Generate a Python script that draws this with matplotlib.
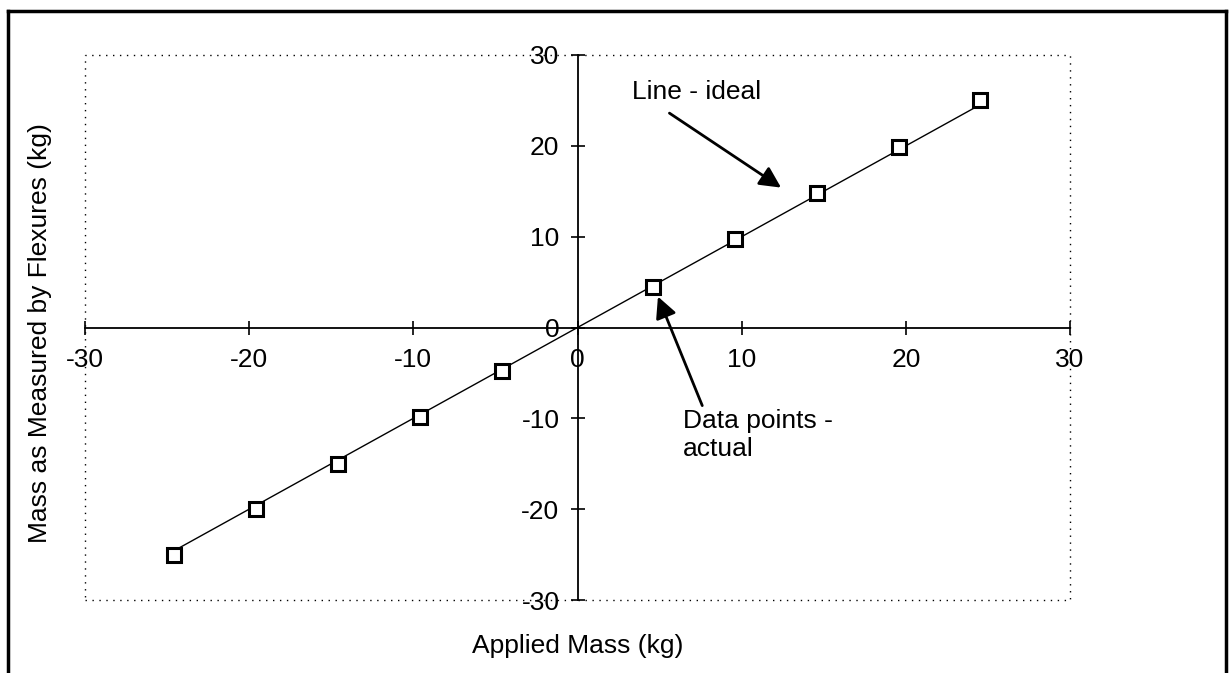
#!/usr/bin/env python3
import matplotlib
matplotlib.use("Agg")
import matplotlib.pyplot as plt
from matplotlib.patches import Rectangle
from matplotlib.lines import Line2D

plt.rcParams["font.family"] = ["Liberation Sans", "DejaVu Sans"]
plt.rcParams["axes.unicode_minus"] = False

# applied vs measured mass (kg)
applied = [-24.6, -19.6, -14.6, -9.6, -4.6, 4.6, 9.6, 14.6, 19.6, 24.5]
measured = [-25.0, -20.0, -15.0, -9.8, -4.8, 4.5, 9.7, 14.8, 19.9, 25.0]
ideal_x = [-24.6, 24.5]
ideal_y = [-24.6, 24.5]
ticks = [-30, -20, -10, 0, 10, 20, 30]

FS = 19

fig = plt.figure(figsize=(12.32, 6.73), dpi=100)
ax = fig.add_axes([85 / 1232, 1 - 600 / 673, (1070 - 85) / 1232, (600 - 55) / 673])

ax.plot(ideal_x, ideal_y, color="black", lw=1)
ax.plot(applied, measured, ls="none", marker="s", ms=10, mfc="white",
        mec="black", mew=2.2, clip_on=False)

ax.set_xlim(-30, 30)
ax.set_ylim(-30, 30)
ax.set_xticks(ticks)
ax.set_yticks(ticks)

for s in ["top", "right"]:
    ax.spines[s].set_visible(False)
ax.spines["left"].set_position(("data", 0))
ax.spines["bottom"].set_position(("data", 0))
ax.spines["left"].set_linewidth(1.3)
ax.spines["bottom"].set_linewidth(1.3)

ax.tick_params(direction="inout", length=10, width=1.2, labelsize=FS)
ax.tick_params(axis="x", pad=10)
ax.tick_params(axis="y", pad=8)

# dotted frame of the plot area
ax.add_patch(Rectangle((0, 0), 1, 1, transform=ax.transAxes, fill=False,
                       ec="black", lw=1, ls=(0, (1, 4)), clip_on=False))

ax.text(0.5, -0.085, "Applied Mass (kg)", transform=ax.transAxes,
        ha="center", va="center", fontsize=FS)
fig.text(40 / 1232, 0.505, "Mass as Measured by Flexures (kg)", rotation=90,
         ha="center", va="center", fontsize=FS)

arrow = dict(arrowstyle="-|>", color="black", lw=2, mutation_scale=32,
             shrinkA=0, shrinkB=0)
ax.annotate("", xy=(12.4, 15.4), xytext=(5.6, 23.6), arrowprops=arrow)
ax.text(3.3, 25.9, "Line - ideal", fontsize=FS, ha="left", va="center")
ax.annotate("", xy=(4.9, 3.4), xytext=(7.6, -8.6), arrowprops=arrow)
ax.text(6.4, -11.8, "Data points -\nactual", fontsize=FS, ha="left",
        va="center", linespacing=1.2)

# outer frame
for xs, ys in [([8, 8], [11, 673]), ([8, 1226], [11, 11]), ([1226, 1226], [11, 673])]:
    fig.add_artist(Line2D([x / 1232 for x in xs], [1 - y / 673 for y in ys],
                          color="black", lw=2.5, transform=fig.transFigure))

fig.savefig("out.png", dpi=100, facecolor="white")
